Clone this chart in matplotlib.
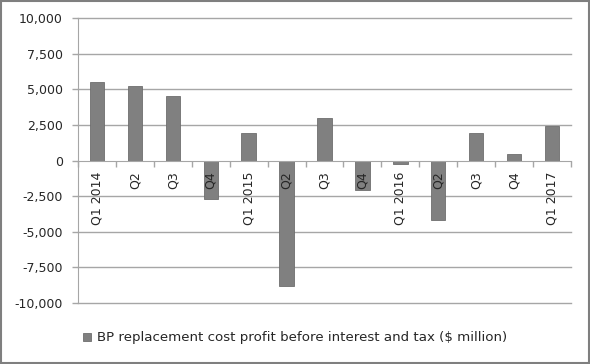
import matplotlib
matplotlib.use("Agg")
import matplotlib.pyplot as plt
from matplotlib.patches import Rectangle
import numpy as np

categories = ["Q1 2014", "Q2", "Q3", "Q4", "Q1 2015", "Q2", "Q3", "Q4",
              "Q1 2016", "Q2", "Q3", "Q4", "Q1 2017"]
values = [5480, 5200, 4500, -2700, 1900, -8830, 3000, -2100,
          -260, -4150, 1900, 480, 2450]
yticks = [-10000, -7500, -5000, -2500, 0, 2500, 5000, 7500, 10000]
series_name = "BP replacement cost profit before interest and tax ($ million)"

plt.rcParams['font.family'] = ['DejaVu Sans']
text_color = '#262626'
grid_color = '#a6a6a6'

fig = plt.figure(figsize=(5.9, 3.64), dpi=100)
ax = fig.add_axes([78/590, 1-303/364, (571-78)/590, (303-18)/364])

ax.spines['bottom'].set_position(('data', 0))
ax.spines['bottom'].set_color(grid_color)
ax.spines['left'].set_color(grid_color)
ax.spines['top'].set_visible(False)
ax.spines['right'].set_visible(False)
ax.spines['bottom'].set_zorder(2)

x = np.arange(len(categories))
bars = ax.bar(x, values, width=0.38, color='#808080', edgecolor='#6e6e6e',
              linewidth=0.6, zorder=1, label=series_name)

for yv in yticks:
    if yv != 0:
        ax.axhline(yv, color=grid_color, lw=1.0, zorder=0.2, clip_on=False)

ax.set_xlim(-0.5, len(categories) - 0.5)
ax.set_ylim(-10000, 10000)
ax.set_yticks(yticks)
ax.set_yticklabels([f"{v:,}" for v in yticks], color=text_color, fontsize=9)
ax.tick_params(axis='y', length=4, color=grid_color, pad=7, width=1.0)

ax.set_xticks(x)
ax.set_xticklabels(categories, rotation=90, va='top', ha='center',
                   color=text_color, fontsize=9)
ax.set_xticks(np.arange(len(categories) + 1) - 0.5, minor=True)
ax.tick_params(axis='x', which='major', length=0, pad=8)
ax.tick_params(axis='x', which='minor', length=4, color=grid_color, width=1.0)

fig.legend(handles=[bars], labels=[series_name], loc='center',
           bbox_to_anchor=(0.5, 1 - 338/364), frameon=False,
           handlelength=0.6, handleheight=0.6, handletextpad=0.5,
           fontsize=9.6, labelcolor=text_color)

fig.patches.append(Rectangle((0.001, 0.002), 0.997, 0.995, transform=fig.transFigure,
                             fill=False, edgecolor='#7f7f7f', lw=1.5))

fig.savefig("out.png", dpi=100)
